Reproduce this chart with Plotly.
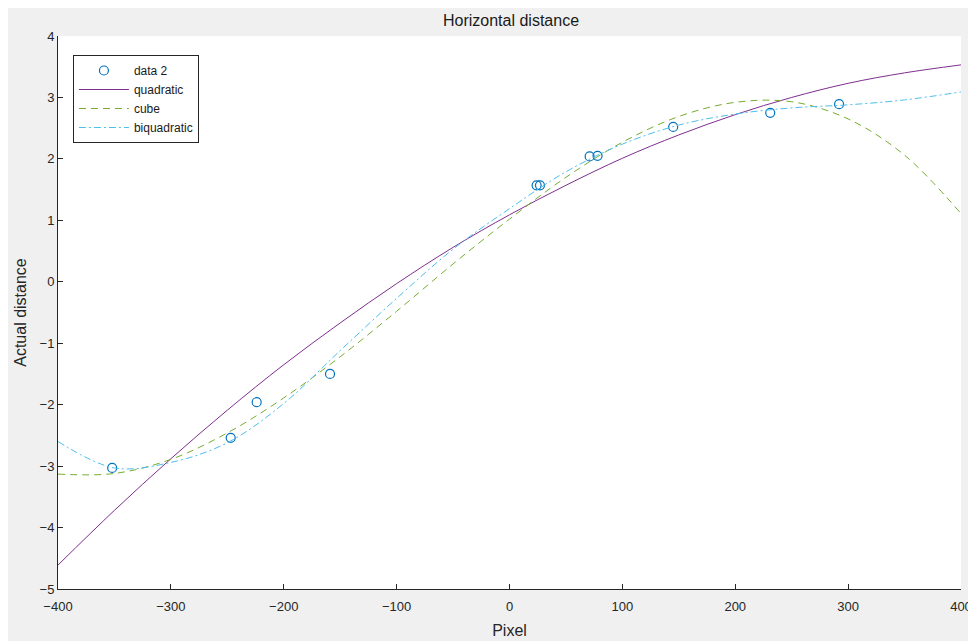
import plotly.graph_objects as go

# measured data ("data 2")
data_x = [-352, -247, -224, -159, 24, 27, 71, 78, 145, 231, 292]
data_y = [-3.03, -2.54, -1.96, -1.50, 1.57, 1.57, 2.04, 2.05, 2.52, 2.75, 2.89]

# fitted curves at these pixel positions
curve_x = [-400, -350, -300, -250, -200, -150, -100, -50, 0, 50, 100, 150, 200, 250, 300, 350, 400]
quadratic_y = [-4.61, -3.72, -2.88, -2.09, -1.35, -0.67, -0.03, 0.56, 1.09, 1.57, 2.01, 2.39, 2.72, 3.00, 3.23, 3.40, 3.53]
cube_y = [-3.13, -3.12, -2.89, -2.46, -1.89, -1.22, -0.48, 0.29, 1.02, 1.70, 2.27, 2.69, 2.92, 2.93, 2.65, 2.06, 1.11]
biquadratic_y = [-2.60, -3.03, -2.94, -2.62, -1.98, -1.12, -0.27, 0.53, 1.19, 1.79, 2.24, 2.55, 2.73, 2.83, 2.88, 2.96, 3.09]

x_ticks = [-400, -300, -200, -100, 0, 100, 200, 300, 400]
y_ticks = [-5, -4, -3, -2, -1, 0, 1, 2, 3, 4]

AX = "#262626"
FONT = "Liberation Sans, Arial, sans-serif"

fig = go.Figure()
fig.add_trace(go.Scatter(x=data_x, y=data_y, mode="markers", name="data 2",
                         marker=dict(symbol="circle-open", size=9, color="#0072BD",
                                     line=dict(width=1.2, color="#0072BD"))))
fig.add_trace(go.Scatter(x=curve_x, y=quadratic_y, mode="lines", name="quadratic",
                         line=dict(color="#7E2F8E", width=1, shape="spline")))
fig.add_trace(go.Scatter(x=curve_x, y=cube_y, mode="lines", name="cube",
                         line=dict(color="#77AC30", width=1, dash="7px,5px", shape="spline")))
fig.add_trace(go.Scatter(x=curve_x, y=biquadratic_y, mode="lines", name="biquadratic",
                         line=dict(color="#4DBEEE", width=1, dash="7px,3px,2px,3px", shape="spline")))

# the page body adds an 8 px offset; figure coordinates below are page coords minus 8
OFF = 8
W, H = 976, 641
L, T = 58 - OFF, 36 - OFF
R = W - (965 - OFF)
B = H - (589 - OFF)
pw, ph = W - L - R, H - T - B

def px2paper_x(p):
    return (p - OFF - L) / pw

def py2paper_y(p):
    return (H - B - (p - OFF)) / ph

fig.update_layout(
    width=W, height=H,
    margin=dict(l=L, r=R, t=T, b=B),
    paper_bgcolor="#f0f0f0",
    plot_bgcolor="white",
    font=dict(family=FONT, color=AX, size=13),
    title=dict(text="Horizontal distance", x=px2paper_x(511) * pw / W + L / W, xanchor="center",
               y=1 - (20 - OFF) / H, yanchor="middle", yref="container",
               font=dict(size=16, color="#1a1a1a")),
    xaxis=dict(range=[-400, 400], tickvals=x_ticks, ticks="inside", ticklen=5,
               tickcolor=AX, showline=True, linecolor=AX, linewidth=1,
               showgrid=False, zeroline=False, mirror=False,
               ticklabelstandoff=5,
               title=dict(text="Pixel", font=dict(size=16), standoff=12),
               tickfont=dict(size=13)),
    yaxis=dict(range=[-5, 4], tickvals=y_ticks, ticks="inside", ticklen=5,
               tickcolor=AX, showline=True, linecolor=AX, linewidth=1,
               showgrid=False, zeroline=False, mirror=False,
               title=dict(text="Actual distance", font=dict(size=16), standoff=8),
               tickfont=dict(size=13)),
    showlegend=True,
    legend=dict(x=px2paper_x(73), y=py2paper_y(55), xanchor="left", yanchor="top",
                bgcolor="white", bordercolor=AX, borderwidth=1,
                font=dict(size=12, color="#1a1a1a"), itemwidth=50,
                tracegroupgap=0),
)

fig.write_html("out.html")
